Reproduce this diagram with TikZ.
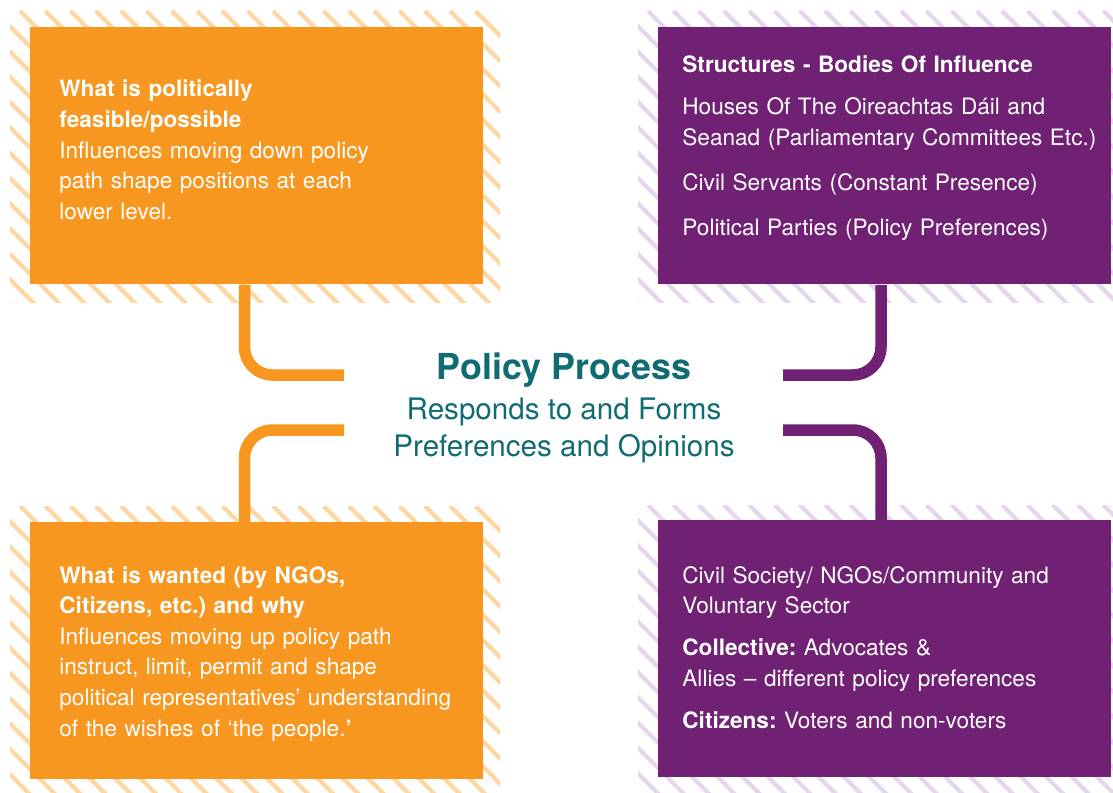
\documentclass[tikz,border=0pt]{standalone}
\usepackage{fontspec}
\setmainfont{TeX Gyre Heros}
\frenchspacing

\definecolor{policyOrange}{RGB}{247,151,31}
\definecolor{policyPurple}{RGB}{112,33,116}
\definecolor{orangeHatch}{RGB}{253,214,162}
\definecolor{purpleHatch}{RGB}{229,214,235}
\definecolor{policyTeal}{RGB}{16,107,115}

\tikzset{
  orangebox/.style={fill=policyOrange, anchor=north west, inner sep=0pt, minimum width=226.5pt, minimum height=128.5pt},
  purplebox/.style={fill=policyPurple, anchor=north west, inner sep=0pt, minimum width=226.5pt, minimum height=128.5pt},
  boxtext/.style={anchor=base west, inner sep=0pt, text=white, align=left, text width=240pt, font=\fontsize{11.3}{15.3}\selectfont},
  orangelink/.style={draw=policyOrange, line width=5.75pt, rounded corners=14pt},
  purplelink/.style={draw=policyPurple, line width=5.75pt, rounded corners=14pt},
  titletext/.style={anchor=base, inner sep=0pt, text=policyTeal, font=\fontsize{17.9}{20}\selectfont\bfseries},
  subtext/.style={anchor=base, inner sep=0pt, text=policyTeal, font=\fontsize{14.8}{17}\selectfont}
}

\begin{document}
\begin{tikzpicture}[x=0.5pt,y=0.5pt,yscale=-1,xscale=1]
\useasboundingbox (0,0) rectangle (1113,792);

% hatched bands behind the boxes
\foreach \xa/\ya/\xb/\yb/\col in {10/11/500/302/orangeHatch, 638/11/1113/302/purpleHatch, 10/506/500/792/orangeHatch, 638/505/1113/792/purpleHatch} {
  \begin{scope}
    \clip (\xa,\ya) rectangle (\xb,\yb);
    \foreach \k in {-13,...,20}
      \draw[\col, line width=2.1pt] (\xa+10+\k*25.3,\ya) -- ++(320,320);
  \end{scope}
}

% Boxes
\node[orangebox] (feasible) at (30,27) {};
\node[purplebox] (structures) at (658,27) {};
\node[orangebox] (wanted) at (30,522) {};
\node[purplebox] (society) at (658,520) {};

% link ends beside the centre text
\coordinate (tlEnd) at (344,375);
\coordinate (trEnd) at (783,375);
\coordinate (blEnd) at (344,430);
\coordinate (brEnd) at (783,430);

\draw[orangelink] ([xshift=107.25pt]feasible.south west) |- (tlEnd);
\draw[purplelink] ([xshift=111.5pt]structures.south west) |- (trEnd);
\draw[orangelink] ([xshift=107.25pt]wanted.north west) |- (blEnd);
\draw[purplelink] ([xshift=111.5pt]society.north west) |- (brEnd);

% Text Nodes
\node[boxtext] (feasibleText) at (59,97) {\textbf{What is politically}\\\textbf{feasible/possible}\\Influences moving down policy\\path shape positions at each\\lower level.};
\node[boxtext] (structuresText) at (682,73) {\textbf{Structures - Bodies Of Influence}\\[5.7pt]Houses Of The Oireachtas Dáil and\\Seanad (Parliamentary Committees Etc.)\\[7.2pt]Civil Servants (Constant Presence)\\[7.2pt]Political Parties (Policy Preferences)};
\node[boxtext] (wantedText) at (59,583) {\textbf{What is wanted (by NGOs,}\\\textbf{Citizens, etc.) and why}\\Influences moving up policy path\\instruct, limit, permit and shape\\political representatives’ understanding\\of the wishes of ‘the people.\textbf{’}};
\node[boxtext] (societyText) at (682,583) {Civil Society/ NGOs/Community and\\Voluntary Sector\\[5.7pt]\textbf{Collective:} Advocates \&\\Allies – different policy preferences\\[5.7pt]\textbf{Citizens:} Voters and non-voters};

\node[titletext] (policyTitle) at (564,379) {Policy Process};
\node[subtext] (respondsLine) at (564,419) {Responds to and Forms};
\node[subtext] (opinionsLine) at (564,456) {Preferences and Opinions};

\end{tikzpicture}
\end{document}
